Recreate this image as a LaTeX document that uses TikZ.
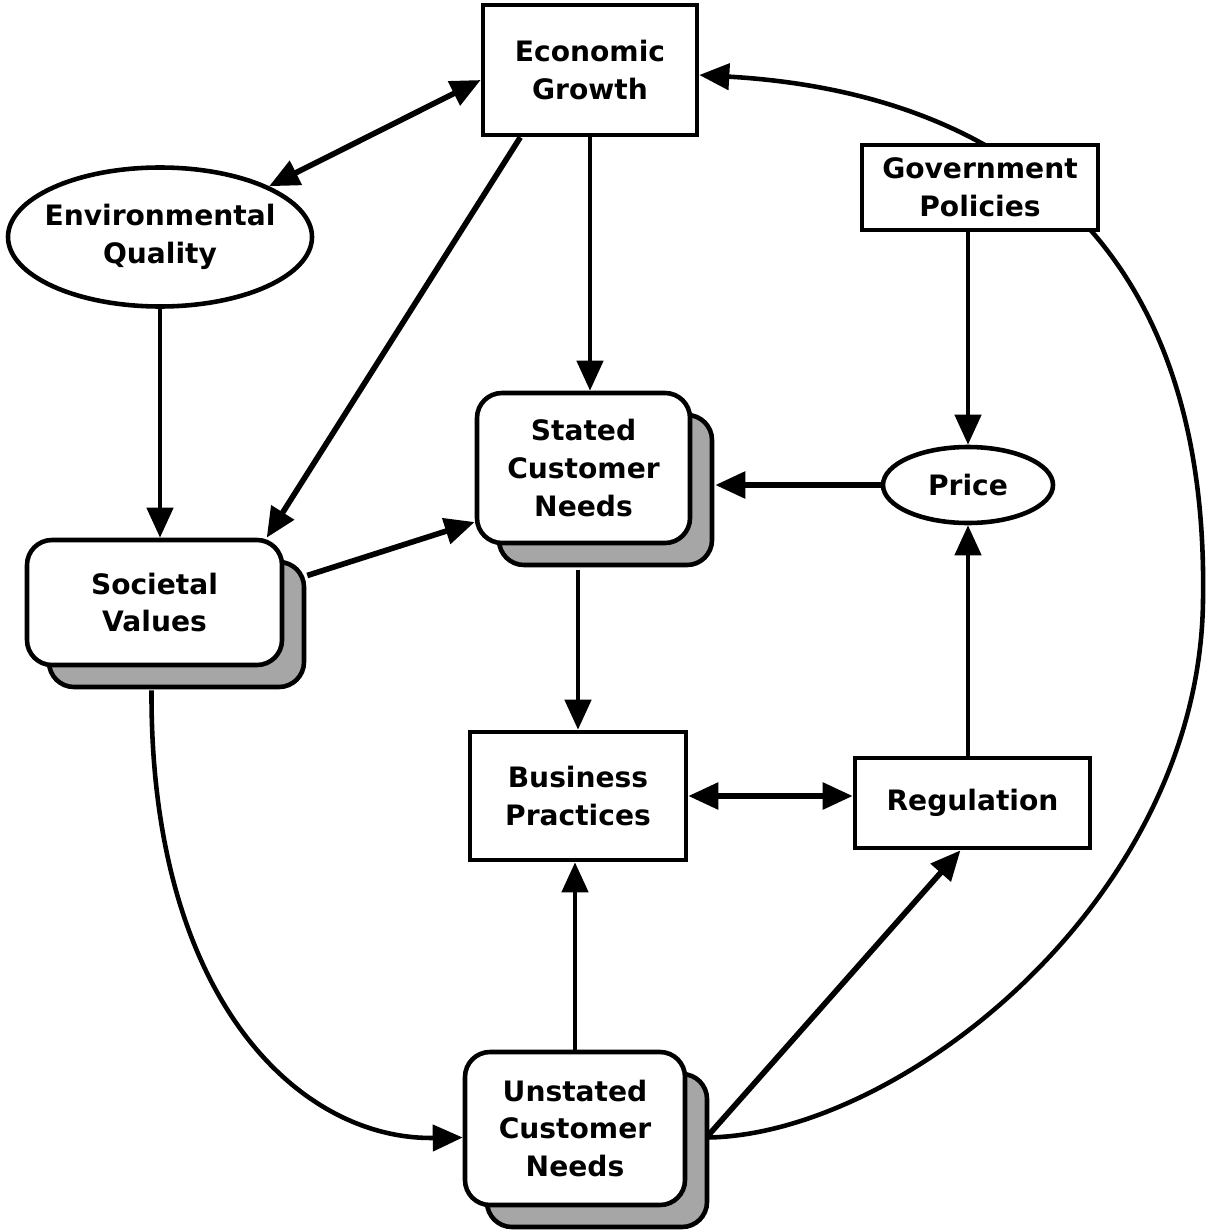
\documentclass[tikz,border=0pt]{standalone}
\usepackage{fontspec}
\setmainfont{DejaVu Sans}
\usepackage{tikz}
\usetikzlibrary{calc,shadows,arrows.meta,shapes.geometric}

\pgfdeclarelayer{background}
\pgfsetlayers{background,main}

\begin{document}
\begin{tikzpicture}[
        lbl/.style={align=center, font=\fontsize{8}{10.7}\selectfont\bfseries},
        box/.style={lbl, draw, line width=1.3pt, fill=white, inner sep=0pt},
        oval/.style={box, ellipse},
        stack/.style={box, rounded corners=0.25cm,
                      general shadow={shadow xshift=0.22cm, shadow yshift=-0.22cm,
                                      fill=black!35, draw=black, line width=1.3pt}},
        arr/.style={-{Triangle[length=0.3cm,width=0.26cm]}, line width=1.3pt},
        darr/.style={{Triangle[length=0.3cm,width=0.26cm]}-{Triangle[length=0.3cm,width=0.26cm]},
                     line width=1.6pt}
    ]
        \useasboundingbox (0,0) rectangle (12.08,-12.30);

        \node[box, minimum width=2.14cm, minimum height=1.30cm] (econ) at (5.90,-0.70) {Economic\\Growth};
        \node[box, minimum width=2.36cm, minimum height=0.85cm] (gov) at (9.80,-1.875) {Government\\Policies};
        \node[oval, minimum width=3.04cm, minimum height=1.39cm,
              label={[lbl]center:Environmental\\Quality}] (envq) at (1.60,-2.37) {};
        \node[stack, minimum width=2.13cm, minimum height=1.50cm] (stated) at (5.835,-4.68) {Stated\\Customer\\Needs};
        \node[oval, minimum width=1.70cm, minimum height=0.76cm] (price) at (9.68,-4.85) {Price};
        \node[stack, minimum width=2.55cm, minimum height=1.25cm] (societal) at (1.545,-6.025) {Societal\\Values};
        \node[box, minimum width=2.16cm, minimum height=1.28cm] (business) at (5.78,-7.96) {Business\\Practices};
        \node[box, minimum width=2.35cm, minimum height=0.90cm] (regulation) at (9.725,-8.03) {Regulation};
        \node[stack, minimum width=2.20cm, minimum height=1.53cm] (unstated) at (5.75,-11.285) {Unstated\\Customer\\Needs};

        \draw[darr] (envq.north east) -- ([yshift=-0.1cm]econ.west);
        \draw[arr, line width=1.6pt] (econ.224) -- (societal.30);
        \draw[arr] (econ.south) -- (econ.south |- stated.north);
        \draw[arr] (price.north |- gov.south) -- (price.north);
        \draw[arr] (envq.south) -- (envq.south |- societal.north);
        \draw[arr, line width=1.6pt] ($(societal.east)+(0.23,0.27)$) -- ([yshift=-0.54cm]stated.west);
        \draw[arr, line width=1.6pt] (price.west) -- ($(stated.east |- price.west)+(0.23,0)$);
        \draw[arr] ($(business.north |- stated.south)+(0,-0.25)$) -- (business.north);
        \draw[darr] (business.east) -- (business.east -| regulation.west);
        \draw[arr] (price.south |- regulation.north) -- (price.south);
        \draw[arr] (unstated.north) -- (unstated.north |- business.south);
        \draw[arr, line width=1.6pt] ($(unstated.east)+(0.2,-0.08)$) -- ([xshift=-0.12cm]regulation.south);
        \draw[arr] ($(societal.south)+(-0.03,-0.23)$) .. controls (1.50,-10.00) and (3.00,-11.40) .. ([yshift=-0.09cm]unstated.west);

        \begin{pgfonlayer}{background}
            \coordinate (rim) at (12.03,-6.00);
            \draw[arr] ($(unstated.east)+(0.2,-0.09)$) .. controls (9.00,-11.35) and (12.00,-9.00) .. (rim)
                .. controls (12.10,-1.80) and (9.30,-0.88) .. ([yshift=-0.05cm]econ.east);
        \end{pgfonlayer}
    \end{tikzpicture}
\end{document}
